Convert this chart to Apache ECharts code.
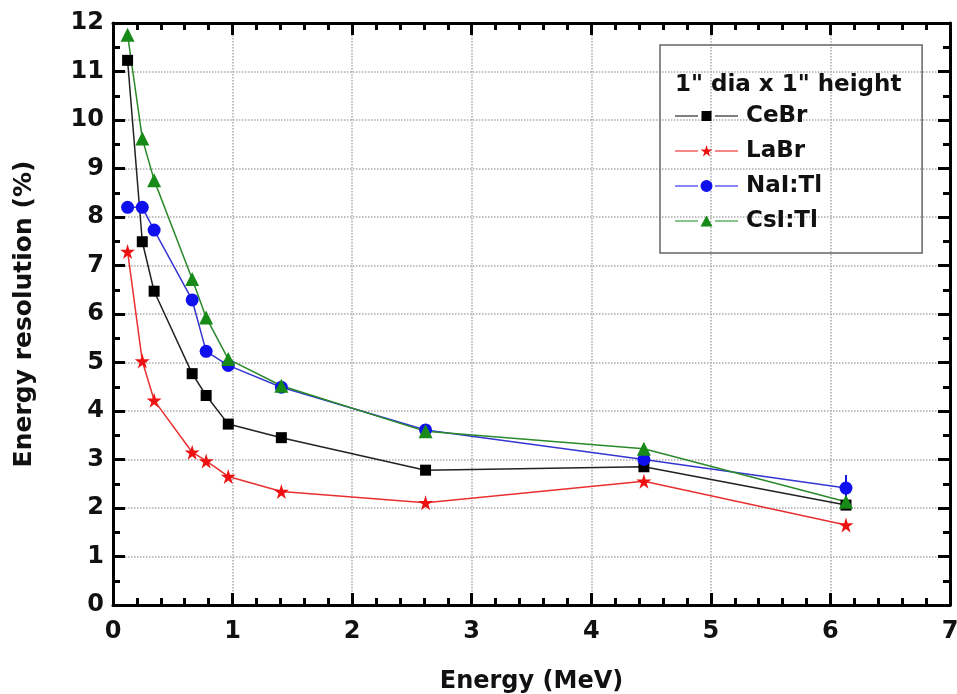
<!DOCTYPE html>
<html>
<head>
<meta charset="utf-8">
<script src="https://cdn.jsdelivr.net/npm/echarts@6/dist/echarts.min.js"></script>
<style>
  html, body { margin: 0; padding: 0; background: #fff; }
  #chart { width: 957px; height: 694px; }
</style>
</head>
<body>
<div id="chart"></div>
<script>
var energy = [0.122, 0.245, 0.344, 0.662, 0.779, 0.964, 1.408, 2.614, 4.44, 6.13];
var cebr = [11.23, 7.49, 6.47, 4.77, 4.32, 3.73, 3.45, 2.78, 2.85, 2.06];
var labr = [7.29, 5.03, 4.22, 3.15, 2.97, 2.65, 2.34, 2.11, 2.55, 1.65];
var nai = [8.2, 8.2, 7.73, 6.29, 5.23, 4.94, 4.49, 3.61, 3.0, 2.41];
var csi = [11.76, 9.62, 8.76, 6.72, 5.93, 5.07, 4.52, 3.58, 3.22, 2.13];
var naiErr = [0, 0, 0, 0, 0.1, 0, 0, 0, 0, 0.27];
var names = ["CeBr", "LaBr", "NaI:Tl", "CsI:Tl"];
var legendTitle = '1" dia x 1" height';

// star outline, unit box 0..100
var starPts = [[50, 0], [61, 35], [98, 35], [68, 57], [79, 91], [50, 70], [21, 91], [32, 57], [2, 35], [39, 35]];

function starPath(ox, oy, s) {
  var d = "";
  starPts.forEach(function (p, i) {
    d += (i ? "L" : "M") + (ox + p[0] * s).toFixed(2) + "," + (oy + p[1] * s).toFixed(2) + " ";
  });
  return d + "Z";
}

// legend icon: line - gap - marker - gap - line, in a 63 x 12 box
var iconFrame = "M0,0 L0.01,0 L0.01,0.01 Z M63,12 L62.99,12 L62.99,11.99 Z ";
var iconLines = "M0,5.5 L23,5.5 L23,6.5 L0,6.5 Z M40,5.5 L63,5.5 L63,6.5 L40,6.5 Z ";
var icons = [
  "path://" + iconFrame + iconLines + "M26.5,1 L36.5,1 L36.5,11 L26.5,11 Z",
  "path://" + iconFrame + iconLines + starPath(25.3, 0, 0.125),
  "path://" + iconFrame + iconLines + "M25.5,6 A6,6 0 1,0 37.5,6 A6,6 0 1,0 25.5,6 Z",
  "path://" + iconFrame + iconLines + "M31.5,0.5 L37.5,11.5 L25.5,11.5 Z",
];

function pairs(ys) {
  var out = [];
  for (var i = 0; i < energy.length; i++) {
    out.push([energy[i], ys[i]]);
  }
  return out;
}

var chartDom = document.getElementById("chart");
var myChart = echarts.init(chartDom);
var font = "DejaVu Sans";

var tickStyle = { color: "#000", width: 3 };

// one axis of the frame: either the major one (labels, grid) or a tick-only one
function frameAxis(pos, max, step, tickLen, major) {
  return {
    type: "value",
    position: pos,
    min: 0,
    max: max,
    interval: step,
    axisLine: { show: major, onZero: false, lineStyle: { color: "#000", width: 3 } },
    axisTick: { show: true, inside: true, length: tickLen, lineStyle: tickStyle },
    axisLabel: { show: false },
    splitLine: { show: false },
  };
}

var xMain = frameAxis("bottom", 7, 1, 12, true);
xMain.name = "Energy (MeV)";
xMain.nameLocation = "middle";
xMain.nameGap = 65;
xMain.nameTextStyle = { fontFamily: font, fontSize: 24, fontWeight: "bold", color: "#111" };
xMain.axisLabel = { show: true, fontFamily: font, fontSize: 24, fontWeight: "bold", color: "#111", margin: 15 };
xMain.splitLine = { show: true, lineStyle: { color: "#aaa", type: "dotted", width: 1.5 } };

var yMain = frameAxis("left", 12, 1, 12, true);
yMain.name = "Energy resolution (%)";
yMain.nameLocation = "middle";
yMain.nameGap = 76;
yMain.nameTextStyle = { fontFamily: font, fontSize: 25, fontWeight: "bold", color: "#111" };
yMain.axisLabel = { show: true, fontFamily: font, fontSize: 24, fontWeight: "bold", color: "#111", margin: 9 };
yMain.splitLine = { show: true, lineStyle: { color: "#aaa", type: "dotted", width: 1.5 } };

var errData = [];
for (var i = 0; i < energy.length; i++) {
  if (naiErr[i] > 0) errData.push([energy[i], nai[i] - naiErr[i], nai[i] + naiErr[i]]);
}

var option = {
  animation: false,
  title: {
    text: legendTitle,
    left: 670,
    top: 69,
    textStyle: { fontFamily: font, fontSize: 23, fontWeight: "bold", color: "#111" },
  },
  legend: {
    data: names.map(function (n, i) { return { name: n, icon: icons[i] }; }),
    orient: "vertical",
    left: 660,
    top: 45,
    padding: [59, 100, 20, 15],
    borderColor: "#666",
    borderWidth: 1.5,
    itemWidth: 63,
    itemHeight: 12,
    itemGap: 11,
    textStyle: { fontFamily: font, fontSize: 23, fontWeight: "bold", color: "#111", lineHeight: 24, padding: [0, 0, 0, 3] },
  },
  grid: { left: 113, right: 7, top: 23, bottom: 89, outerBoundsMode: "none", containLabel: false },
  xAxis: [
    xMain,
    frameAxis("bottom", 7, 0.2, 7, false),
    frameAxis("top", 7, 1, 12, true),
    frameAxis("top", 7, 0.2, 7, false),
  ],
  yAxis: [
    yMain,
    frameAxis("left", 12, 0.5, 7, false),
    frameAxis("right", 12, 1, 12, true),
    frameAxis("right", 12, 0.5, 7, false),
  ],
  series: [
    {
      name: "CeBr",
      type: "line",
      data: pairs(cebr),
      symbol: "rect",
      symbolSize: 11,
      itemStyle: { color: "#000" },
      lineStyle: { color: "#222", width: 1.5 },
    },
    {
      name: "LaBr",
      type: "line",
      data: pairs(labr),
      symbol: "path://" + starPath(0, 0, 1),
      symbolSize: 15,
      itemStyle: { color: "#ee1111" },
      lineStyle: { color: "#e83030", width: 1.5 },
    },
    {
      name: "NaI err",
      type: "custom",
      data: errData,
      silent: true,
      renderItem: function (params, api) {
        var top = api.coord([api.value(0), api.value(2)]);
        var bot = api.coord([api.value(0), api.value(1)]);
        return {
          type: "line",
          shape: { x1: top[0], y1: top[1], x2: bot[0], y2: bot[1] },
          style: { stroke: "#1515e0", lineWidth: 2 },
        };
      },
      z: 1,
    },
    {
      name: "NaI:Tl",
      type: "line",
      data: pairs(nai),
      symbol: "circle",
      symbolSize: 13,
      itemStyle: { color: "#1010ee" },
      lineStyle: { color: "#3535d0", width: 1.5 },
    },
    {
      name: "CsI:Tl",
      type: "line",
      data: pairs(csi),
      symbol: "triangle",
      symbolSize: 14,
      itemStyle: { color: "#178a17" },
      lineStyle: { color: "#2a8a2a", width: 1.5 },
    },
  ],
};

option && myChart.setOption(option);
</script>
</body>
</html>
